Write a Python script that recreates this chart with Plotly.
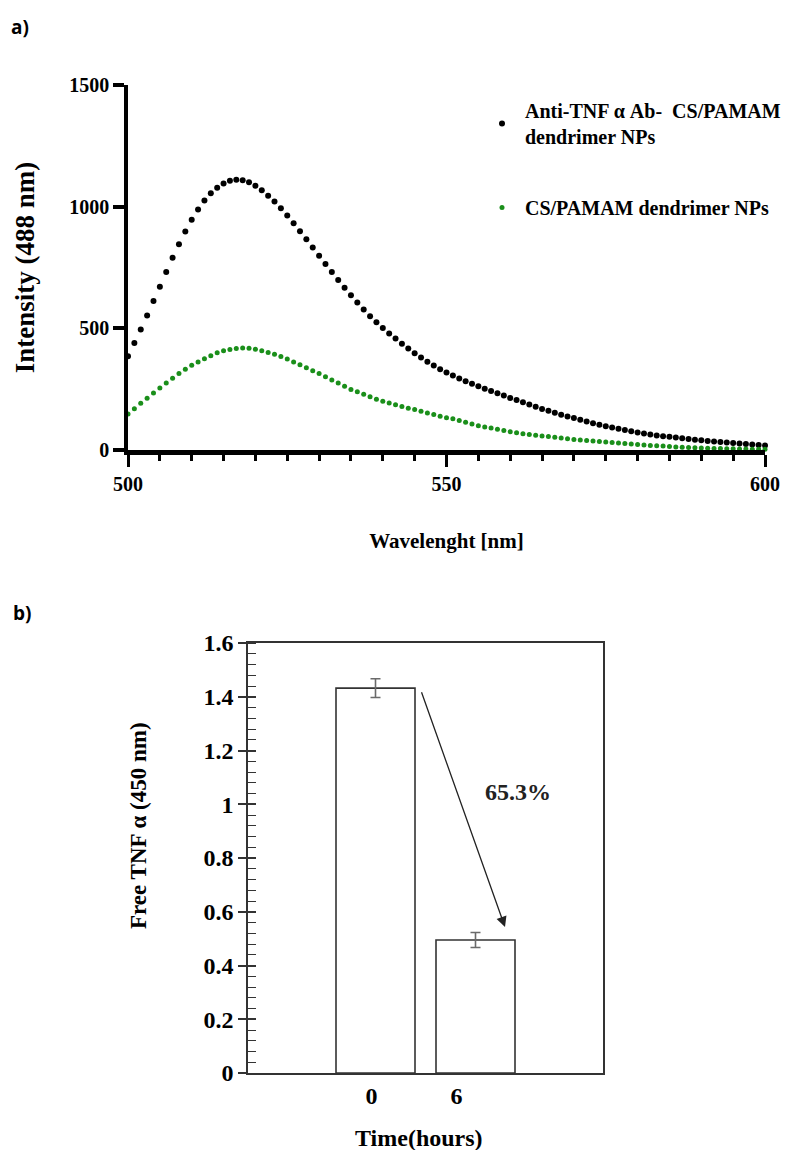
import plotly.graph_objects as go

# ---------------- data: panel a (fluorescence spectra) ----------------
wavelength = list(range(500, 601))
anti_tnf_np = [
    385, 440, 495, 553, 612, 671, 731, 790, 846, 898,
    946, 988, 1025, 1055, 1078, 1095, 1106, 1111, 1109, 1100,
    1086, 1067, 1045, 1021, 994, 964, 932, 899, 866, 832,
    798, 764, 731, 699, 667, 636, 606, 577, 550, 525,
    501, 479, 458, 437, 417, 398, 380, 363, 347, 332,
    318, 306, 294, 283, 272, 262, 252, 242, 233, 224,
    214, 205, 196, 187, 178, 169, 161, 153, 145, 138,
    131, 124, 117, 110, 104, 98, 92, 87, 82, 77,
    72, 68, 64, 60, 57, 54, 51, 48, 45, 42,
    40, 37, 35, 33, 31, 29, 27, 25, 23, 21,
    19,
]
cs_pamam_np = [
    148, 170, 192, 213, 234, 255, 275, 295, 314, 332,
    348, 362, 375, 387, 400, 408, 413, 417, 419, 418,
    414, 408, 401, 393, 384, 374, 362, 350, 338, 326,
    314, 301, 288, 275, 262, 249, 239, 229, 219, 209,
    200, 193, 186, 179, 172, 166, 159, 152, 146, 139,
    133, 128, 121, 114, 107, 100, 95, 90, 85, 80,
    75, 71, 67, 64, 61, 58, 55, 52, 49, 46,
    43, 41, 39, 37, 35, 33, 31, 29, 27, 25,
    23, 21, 19, 17, 16, 14, 12, 11, 10, 9,
    8, 7, 6, 6, 5, 5, 4, 4, 3, 3,
    3,
]
series_names = ["Anti-TNF α Ab-  CS/PAMAM<br>dendrimer NPs", "CS/PAMAM dendrimer NPs"]

# ---------------- data: panel b (free TNF-α) ----------------
time_labels = ["0", "6"]
time_pos = [0, 1]
free_tnf = [1.432, 0.495]
free_tnf_err = [0.035, 0.028]
reduction_label = "65.3%"

W, H = 797, 1150
SERIF = "Liberation Serif"

def px_x(p):
    return p / W

def px_y(p):
    return 1 - p / H

fig = go.Figure()

fig.add_trace(go.Scatter(
    x=wavelength, y=anti_tnf_np, mode="markers", name=series_names[0],
    marker=dict(color="black", size=6), cliponaxis=False,
    xaxis="x", yaxis="y", legendgroup="g1",
))
fig.add_trace(go.Scatter(
    x=wavelength, y=cs_pamam_np, mode="markers", name=series_names[1],
    marker=dict(color="#1a8f1a", size=5), cliponaxis=False,
    xaxis="x", yaxis="y", legendgroup="g2",
))

fig.add_trace(go.Bar(
    x=time_pos, y=free_tnf, width=0.79, showlegend=False,
    marker=dict(color="white", line=dict(color="#333333", width=1.6)),
    error_y=dict(type="data", array=free_tnf_err, color="#6a6a6a", thickness=1.6, width=5),
    xaxis="x2", yaxis="y2",
))

tick_font_a = dict(family=SERIF, size=20, color="black", weight="bold")
tick_font_b = dict(family=SERIF, size=24, color="black", weight="bold")

fig.update_layout(
    template="none",
    width=W, height=H,
    margin=dict(l=0, r=0, t=0, b=0),
    paper_bgcolor="white", plot_bgcolor="white",
    showlegend=True,
    legend=dict(
        x=px_x(479), y=px_y(91), xanchor="left", yanchor="top",
        font=dict(family=SERIF, size=20, color="black", weight="bold"),
        bgcolor="rgba(0,0,0,0)", tracegroupgap=42, itemwidth=36,
        valign="middle",
    ),
    xaxis=dict(
        domain=[px_x(128), px_x(765)], range=[500, 600], anchor="y",
        showgrid=False, zeroline=False, automargin=False,
        showline=True, linecolor="black", linewidth=5,
        tickvals=[500, 550, 600], ticks="outside", ticklen=12, tickwidth=3, tickcolor="black",
        tickfont=tick_font_a,
        minor=dict(dtick=5, tick0=500, ticks="outside", ticklen=6, tickwidth=3, tickcolor="black", showgrid=False),
        title=dict(text="Wavelenght [nm]", font=dict(family=SERIF, size=21, color="black", weight="bold"), standoff=41),
    ),
    yaxis=dict(
        domain=[px_y(450), px_y(85)], range=[0, 1500], anchor="x",
        showgrid=False, zeroline=False, automargin=False,
        showline=True, linecolor="black", linewidth=3.5,
        tickvals=[0, 500, 1000, 1500], ticks="outside", ticklen=11, tickwidth=4, tickcolor="black",
        tickfont=tick_font_a,
        title=dict(text="Intensity (488 nm)", font=dict(family=SERIF, size=27, color="black", weight="bold"), standoff=28),
    ),
    xaxis2=dict(
        domain=[px_x(248), px_x(603)], range=[-1.275, 2.275], anchor="y2",
        showgrid=False, zeroline=False, automargin=False,
        showline=True, mirror=True, linecolor="#333333", linewidth=1.6,
        tickvals=[-0.04, 0.81], ticktext=time_labels, ticks="",
        tickfont=tick_font_b,
    ),
    yaxis2=dict(
        domain=[px_y(1073), px_y(643)], range=[0, 1.6], anchor="x2",
        showgrid=False, zeroline=False, automargin=False,
        showline=True, mirror=True, linecolor="#333333", linewidth=1.6,
        dtick=0.2, tick0=0, ticks="outside", ticklen=8, tickwidth=1.5, tickcolor="#333333",
        tickfont=tick_font_b,
        minor=dict(dtick=0.04, tick0=0, ticks="inside", ticklen=8, tickwidth=1.2, tickcolor="#333333", showgrid=False),
    ),
    yaxis3=dict(
        overlaying="y2", anchor="x2", range=[0, 1.6], side="left",
        showgrid=False, zeroline=False, showline=False, automargin=False,
        dtick=0.2, tick0=0, ticks="inside", ticklen=8, tickwidth=1.5, tickcolor="#333333",
        showticklabels=False,
    ),
)

# invisible trace to activate yaxis3
fig.add_trace(go.Scatter(x=[None], y=[None], xaxis="x2", yaxis="y3", showlegend=False, hoverinfo="skip"))

annotations = [
    dict(text="a)", x=px_x(9), y=px_y(27), xref="paper", yref="paper", xanchor="left", yanchor="middle",
         showarrow=False, font=dict(family="Open Sans", size=19, color="black", weight="bold")),
    dict(text="b)", x=px_x(11), y=px_y(613), xref="paper", yref="paper", xanchor="left", yanchor="middle",
         showarrow=False, font=dict(family="Open Sans", size=19, color="black", weight="bold")),
    # panel b axis titles
    dict(text="Free TNF α (450 nm)", x=px_x(138), y=px_y(826), xref="paper", yref="paper",
         xanchor="center", yanchor="middle", textangle=-90, showarrow=False,
         font=dict(family=SERIF, size=23, color="black", weight="bold")),
    dict(text="Time(hours)", x=px_x(419), y=px_y(1138), xref="paper", yref="paper",
         xanchor="center", yanchor="middle", showarrow=False,
         font=dict(family=SERIF, size=24, color="black", weight="bold")),
    # reduction arrow from bar 0 top to bar 6
    dict(text="", x=1.295, y=free_tnf[1] + 0.048, xref="x2", yref="y2",
         ax=0.455, ay=free_tnf[0] - 0.01, axref="x2", ayref="y2",
         showarrow=True, arrowhead=2, arrowsize=1.6, arrowwidth=1.3, arrowcolor="#222222"),
    dict(text=reduction_label, x=1.425, y=1.046, xref="x2", yref="y2", showarrow=False,
         font=dict(family=SERIF, size=24, color="#222222", weight="bold")),
]
fig.update_layout(annotations=annotations)

fig.write_html("out.html", config={"displayModeBar": False},
               post_script="document.body.style.margin='0';")
